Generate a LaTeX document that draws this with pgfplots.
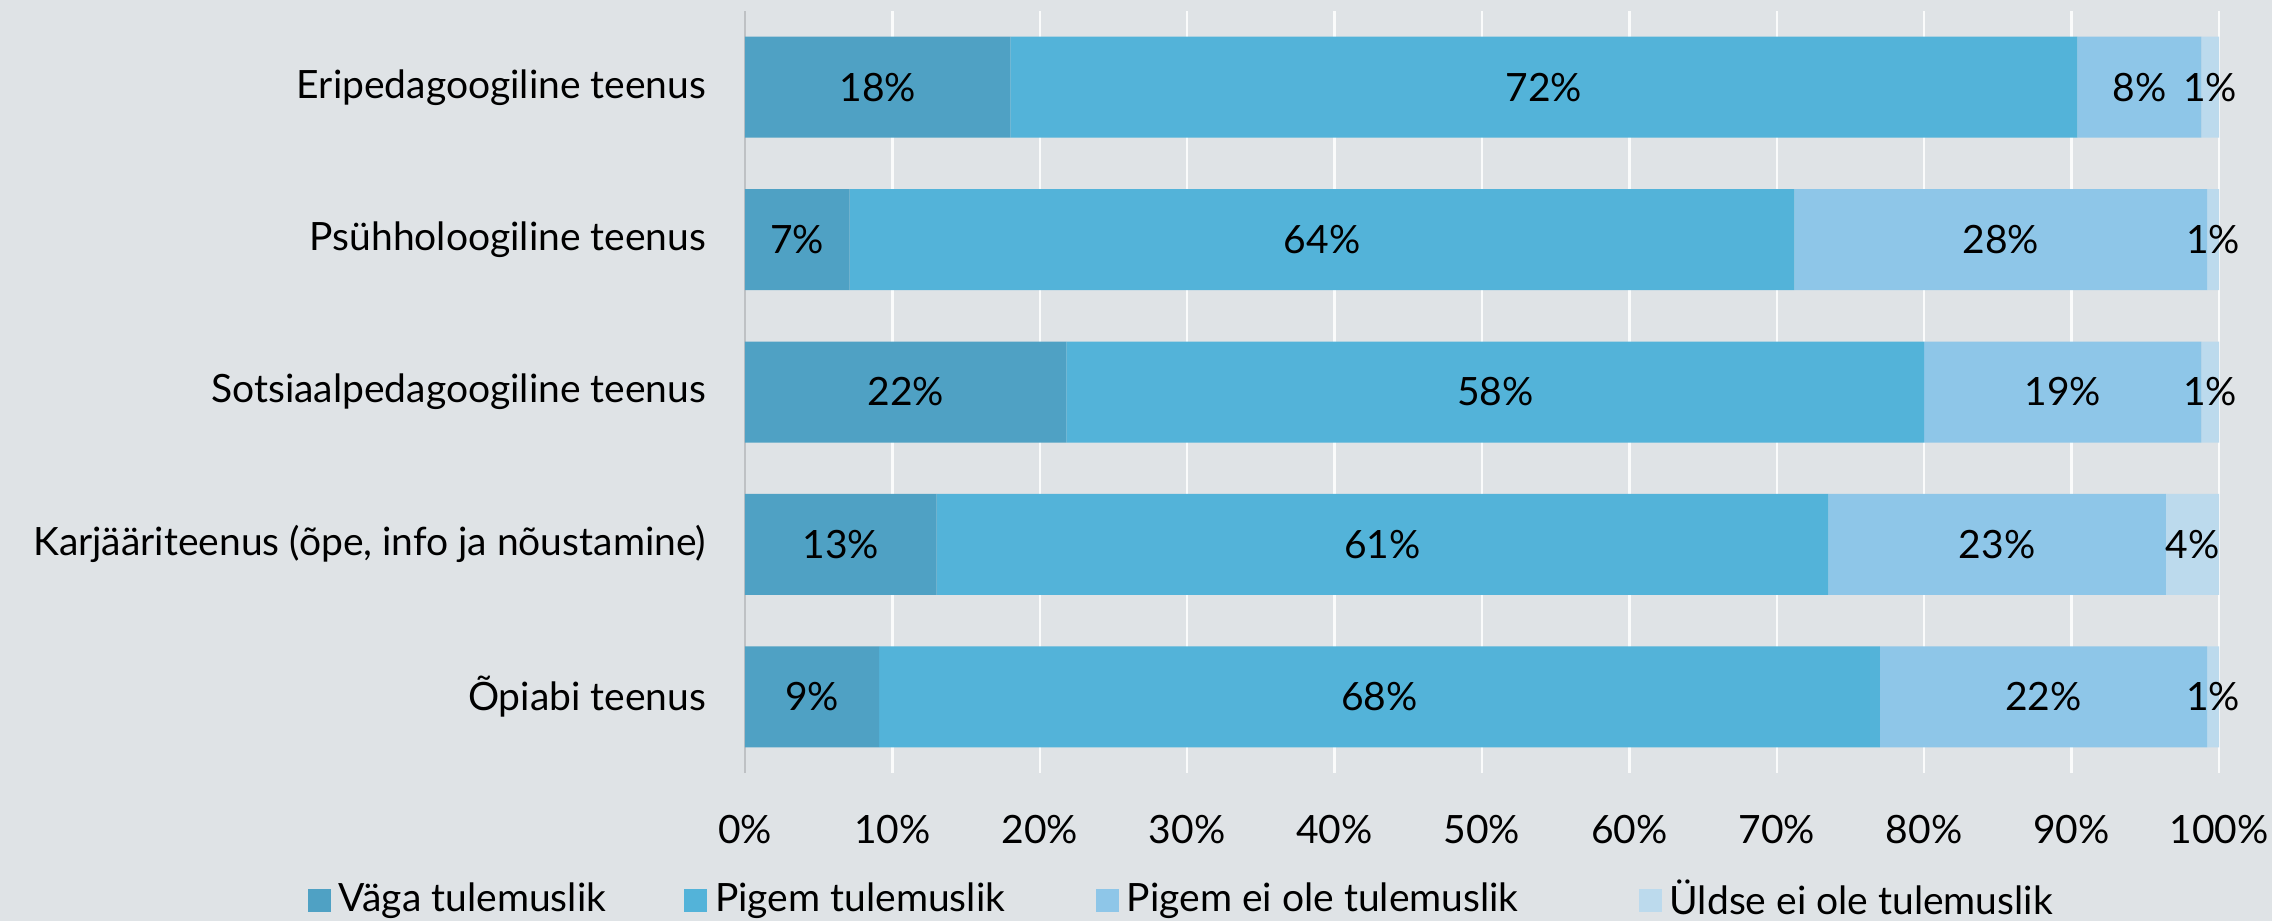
\documentclass[border=0pt]{standalone}
\usepackage{fontspec}
\setmainfont{Lato}
\usepackage{pgfplots}
\pgfplotsset{compat=1.18}
\usepackage{pgfplotstable}
\definecolor{bg}{RGB}{223,227,230}
\definecolor{cA}{RGB}{79,161,196}
\definecolor{cB}{RGB}{83,179,217}
\definecolor{cC}{RGB}{142,198,232}
\definecolor{cD}{RGB}{188,218,237}
\definecolor{axgray}{RGB}{190,193,196}
\pgfplotstableread{
y v1 v2 v3 v4 l1 l2 l3 l4
4 18.0 72.4 8.4 1.2 18 72 8 1
3 7.1 64.1 28.0 0.8 7 64 28 1
2 21.8 58.2 18.8 1.2 22 58 19 1
1 13.0 60.5 22.9 3.6 13 61 23 4
0 9.1 67.9 22.2 0.8 9 68 22 1
}\datatable
\newcommand{\chartfont}{\fontsize{9.75}{12}\selectfont}
\begin{document}
\begin{tikzpicture}
\fill[bg] (-186.25pt,-37pt) rectangle (381.75pt,193.25pt);
\begin{axis}[
  at={(0,0)}, anchor=south west,
  scale only axis, width=368.5pt, height=190.5pt,
  xbar stacked, bar width=25.25pt,
  xmin=0, xmax=100, ymin=-0.5, ymax=4.5,
  ytick={0,1,2,3,4},
  yticklabels={{Õpiabi teenus},{Karjääriteenus (õpe, info ja nõustamine)},{Sotsiaalpedagoogiline teenus},{Psühholoogiline teenus},{Eripedagoogiline teenus}},
  xtick={0,10,...,100},
  xticklabel={\pgfmathprintnumber{\tick}\%},
  /pgf/number format/assume math mode=true,
  tick style={draw=none},
  axis y line*=left, axis x line*=bottom,
  x axis line style={draw=none},
  y axis line style={-, draw=axgray, line width=0.6pt},
  xmajorgrids, major grid style={draw=white!85!bg, line width=0.6pt},
  ticklabel style={font=\chartfont, text=black},
  yticklabel style={anchor=east, inner sep=0pt, xshift=-9.5pt},
  xticklabel style={anchor=center, inner sep=0pt, yshift=-14.25pt},
  nodes near coords={\pgfplotspointmeta\%},
  point meta=explicit symbolic,
  every node near coord/.append style={font=\chartfont, text=black},
  legend columns=4,
  legend style={draw=none, fill=none, inner sep=0pt, font=\chartfont,
    at={(rel axis cs:-0.2972,-0.1667)}, anchor=west,
    /tikz/column 2/.style={column sep=17.5pt},
    /tikz/column 4/.style={column sep=20.7pt},
    /tikz/column 6/.style={column sep=28pt}},
  legend image code/.code={\fill[#1] (0pt,-2.875pt) rectangle (5.75pt,2.875pt);},
]
\addplot[fill=cA, draw=none] table[x=v1, y=y, meta=l1] \datatable;
\addplot[fill=cB, draw=none] table[x=v2, y=y, meta=l2] \datatable;
\addplot[fill=cC, draw=none] table[x=v3, y=y, meta=l3] \datatable;
\addplot[fill=cD, draw=none] table[x=v4, y=y, meta=l4] \datatable;
\legend{Väga tulemuslik, Pigem tulemuslik, Pigem ei ole tulemuslik, Üldse ei ole tulemuslik}
\end{axis}
\pgfresetboundingbox
\path[use as bounding box] (-186.25pt,-37pt) rectangle (381.75pt,193.25pt);
\end{tikzpicture}
\end{document}
